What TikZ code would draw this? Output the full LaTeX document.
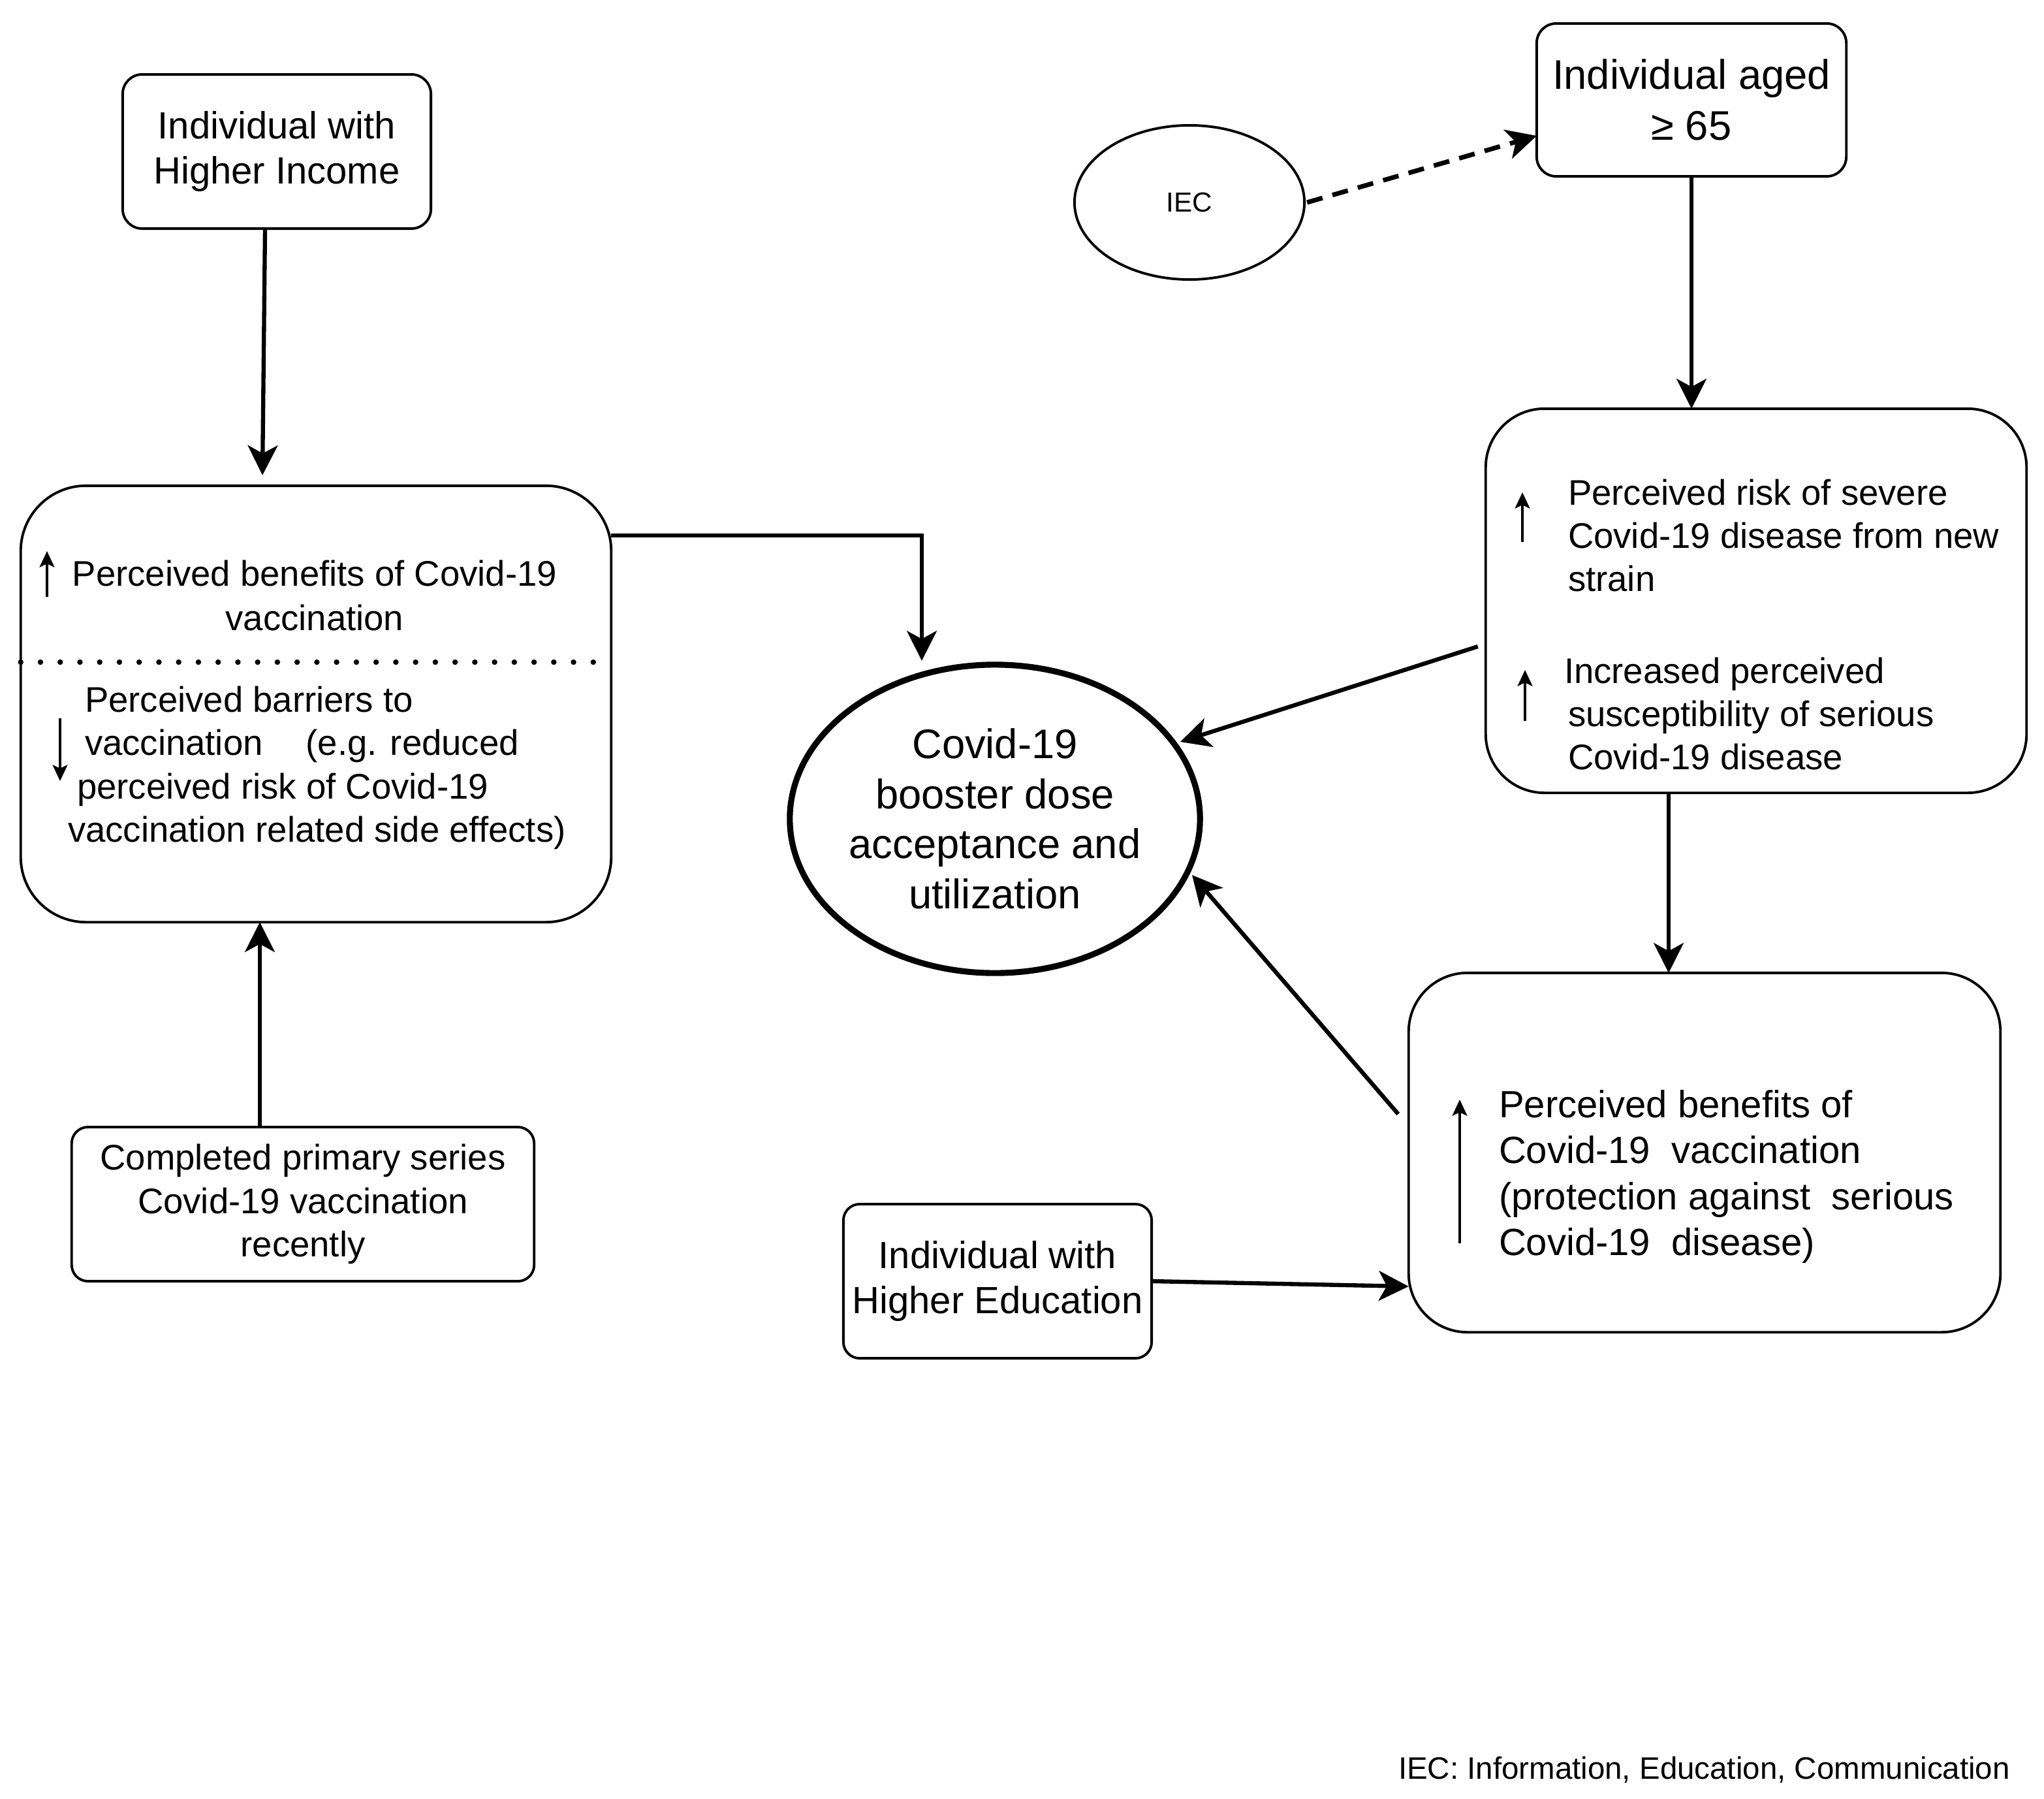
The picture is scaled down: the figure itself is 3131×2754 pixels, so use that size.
\documentclass[tikz,border=0pt]{standalone}
\usepackage{fontspec}
\setmainfont{Liberation Sans}
\usetikzlibrary{arrows.meta,calc,shapes.geometric}
\newcommand\fsm{\fontsize{15.5}{19}\selectfont}
\newcommand\fmd{\fontsize{16.5}{19.8}\selectfont}
\newcommand\fbg{\fontsize{18}{21.8}\selectfont}
\begin{document}
\begin{tikzpicture}[x=0.01cm,y=-0.01cm,
  box/.style={draw,line width=1.1pt,inner sep=0pt,outer sep=0pt,align=center},
  txt/.style={inner sep=0pt,outer sep=0pt},
  arr/.style={line width=1.8pt,-{Stealth[length=13pt,width=13pt,inset=3.5pt]}},
  tarr/.style={line width=1pt,-{Stealth[length=7pt,width=6.5pt,inset=1.5pt]}},
  dashline/.style={dash pattern=on 7pt off 4.5pt,line width=2pt},
  dotline/.style={line width=2.4pt,line cap=round,dash pattern=on 0pt off 8.6pt}]
\useasboundingbox (0,0) rectangle (3131,2754);

% boxes
\node[box,rounded corners=0.3cm,minimum width=4.72cm,minimum height=2.36cm,font=\fmd] (A) at (424,232) {Individual with\\Higher Income};
\node[box,rounded corners=1cm,minimum width=9.04cm,minimum height=6.68cm] (B) at (484,1078) {};
\node[box,rounded corners=0.25cm,minimum width=7.08cm,minimum height=2.36cm,font=\fsm] (C) at (464,1844) {Completed primary series\\Covid-19 vaccination\\recently};
\node[box,ellipse,line width=2.6pt,minimum width=6.28cm,minimum height=4.72cm] (M) at (1524,1254) {};
\node[txt,align=center,font=\fbg] (Mt) at (M.center) {Covid-19\\booster dose\\acceptance and\\utilization};
\node[box,ellipse,minimum width=3.52cm,minimum height=2.36cm,font=\fontsize{12}{14}\selectfont] (I) at (1822,310) {IEC};
\node[box,rounded corners=0.3cm,minimum width=4.74cm,minimum height=2.34cm,font=\fontsize{18}{22.2}\selectfont] (D) at (2591,153) {Individual aged\\≥ 65};
\node[box,rounded corners=0.9cm,minimum width=8.28cm,minimum height=5.88cm] (E) at (2690,920) {};
\node[box,rounded corners=0.9cm,minimum width=9.06cm,minimum height=5.5cm] (F) at (2611,1765) {};
\node[box,rounded corners=0.25cm,minimum width=4.72cm,minimum height=2.36cm,font=\fmd] (G) at (1528,1962) {Individual with\\Higher Education};

% contents of B
\draw[dotline] ($(B.west)+(0,-64)$) -- ($(B.east)+(-12,-64)$);
\node[txt,align=center,font=\fontsize{15.5}{19.3}\selectfont] (Bt1) at (482,912) {Perceived benefits of Covid-19\\vaccination};
\draw[tarr] (72,914) -- (72,844);
\node[txt,align=left,anchor=west,font=\fontsize{15.5}{18.9}\selectfont] (Bt2) at (104,1176)
  {\hspace*{0.26cm}Perceived barriers to\\\hspace*{0.26cm}vaccination\hspace{0.66cm}(e.g. reduced\\\hspace*{0.14cm}perceived risk of Covid-19\\vaccination related side effects)};
\draw[tarr] (92,1100) -- (92,1196);

% contents of E
\node[txt,align=left,anchor=west,font=\fontsize{15.5}{18.7}\selectfont] (Et1) at (2402,820) {Perceived risk of severe\\Covid-19 disease from new\\strain};
\draw[tarr] (2332,830) -- (2332,754);
\node[txt,align=left,anchor=west,font=\fontsize{15.5}{18.7}\selectfont] (Et2) at (2396,1093) {Increased perceived\\\hspace*{0.06cm}susceptibility of serious\\\hspace*{0.06cm}Covid-19 disease};
\draw[tarr] (2336,1104) -- (2336,1026);

% contents of F
\node[txt,align=left,anchor=west,font=\fontsize{16.5}{20}\selectfont] (Ft) at (2296,1802) {Perceived benefits of\\Covid-19~ vaccination\\(protection against~ serious\\Covid-19~ disease)};
\draw[tarr] (2236,1904) -- (2236,1684);

% footnote
\node[txt,anchor=west,font=\fontsize{13.5}{16}\selectfont] (note) at (2142,2710) {IEC: Information, Education, Communication};

% connectors
\coordinate (c1) at ($(C.north)+(-66,0)$);
\coordinate (e1) at ($(E.south)+(-134,0)$);
\draw[arr] ($(A.south)+(-18,0)$) -- ($(B.north)+(-82,-16)$);
\draw[arr] ($(B.north east)+(0,76)$) -| ($(M.north)+(-112,-6)$);
\draw[arr] (c1) -- (c1 |- B.south);
\draw[arr,dashline] ($(I.east)+(4,0)$) -- ($(D.west)+(0,55)$);
\draw[arr] (D.south) -- (D.south |- E.north);
\draw[arr] ($(E.west)+(-12,70)$) -- ($(M.center)+(284,-118)$);
\draw[arr] (e1) -- (e1 |- F.north);
\draw[arr] ($(F.west)+(-16,-59)$) -- ($(M.center)+(302,86)$);
\draw[arr] (G.east) -- ($(F.west)+(0,205)$);
\end{tikzpicture}
\end{document}
